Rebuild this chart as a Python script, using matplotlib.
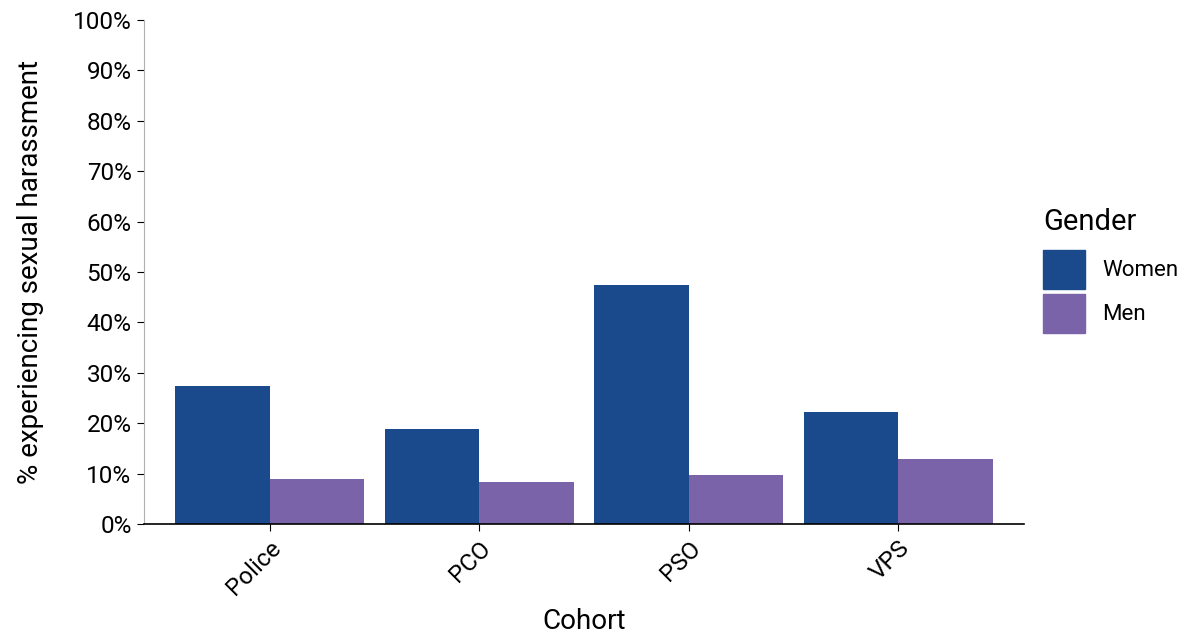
import numpy as np
import matplotlib.pyplot as plt
from matplotlib.patches import Patch

plt.rcParams['font.family'] = ['Roboto', 'DejaVu Sans']

cohorts = ['Police', 'PCO', 'PSO', 'VPS']
women = [27.4, 18.8, 47.4, 22.2]
men = [8.9, 8.3, 9.7, 12.9]
genders = ['Women', 'Men']
colors = ['#1b4a8c', '#7b63a9']

fig = plt.figure(figsize=(11.86, 6.35), dpi=100)
ax = fig.add_axes([144 / 1186, 111 / 635, 880 / 1186, 504 / 635])

x = np.arange(len(cohorts))
w = 0.45
ax.bar(x - w / 2, women, width=w, color=colors[0])
ax.bar(x + w / 2, men, width=w, color=colors[1])

ax.set_xlim(-0.6, 3.6)
ax.set_ylim(0, 100)
ax.set_yticks(np.arange(0, 101, 10))
ax.set_yticklabels([f'{v}%' for v in range(0, 101, 10)])
ax.set_xticks(x)
ax.set_xticklabels(cohorts, rotation=45, ha='right', rotation_mode='anchor')
ax.tick_params(axis='both', labelsize=17.5, length=5, color='black', pad=4)

ax.spines['top'].set_visible(False)
ax.spines['right'].set_visible(False)
ax.spines['left'].set_color('#b0b0b0')
ax.spines['left'].set_linewidth(0.8)
ax.spines['bottom'].set_linewidth(1.2)

ax.set_xlabel('Cohort', fontsize=20, labelpad=6)
ax.set_ylabel('% experiencing sexual harassment', fontsize=20, labelpad=21)

handles = [Patch(color=c, label=g) for c, g in zip(colors, genders)]
leg = fig.legend(handles=handles, title='Gender', loc='upper left',
                 bbox_to_anchor=(1043 / 1186, 1 - 208 / 635), frameon=False,
                 borderpad=0, borderaxespad=0,
                 fontsize=16, title_fontsize=21, handlelength=1.9,
                 handleheight=2.35, handletextpad=0.75, labelspacing=0.2,
                 alignment='left')
leg._legend_box.sep = 10

fig.savefig('out.png', dpi=100)
